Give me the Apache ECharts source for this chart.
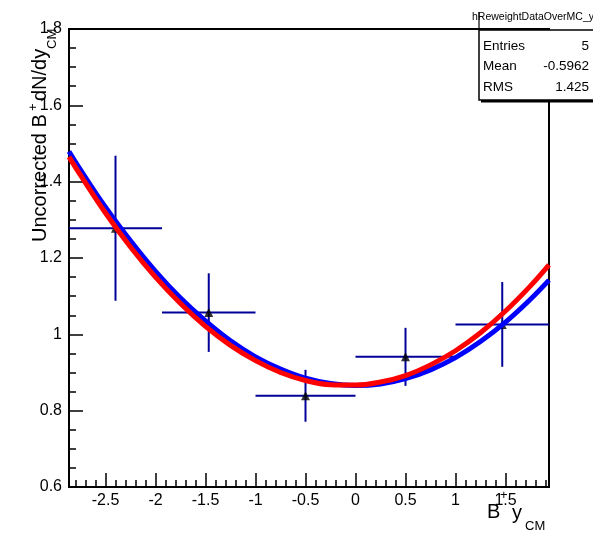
<!DOCTYPE html>
<html><head><meta charset="utf-8">
<script src="https://cdn.jsdelivr.net/npm/echarts@6/dist/echarts.min.js"></script>
<style>html,body{margin:0;padding:0;background:#fff}#c{width:593px;height:533px}</style>
</head><body><div id="c"></div>
<script>
// ---- data ----
const binCenters = [-2.4, -1.4675, -0.5, 0.5, 1.4675];
const binLow     = [-2.865, -1.935, -1.0, 0.0, 1.0];
const binHigh    = [-1.935, -1.0, 0.0, 1.0, 1.935];
const yields     = [1.278, 1.057, 0.839, 0.941, 1.026];
const yErrors    = [0.19, 0.103, 0.068, 0.076, 0.111];

const curveX  = [-2.865, -2.75, -2.5, -2.25, -2.0, -1.75, -1.5, -1.25, -1.0, -0.75, -0.5, -0.25,
                 0.0, 0.25, 0.5, 0.75, 1.0, 1.25, 1.5, 1.75, 1.935];
const blueFit = [1.479, 1.431, 1.333, 1.245, 1.165, 1.095, 1.035, 0.983, 0.941, 0.909, 0.885, 0.871,
                 0.866, 0.870, 0.884, 0.907, 0.939, 0.981, 1.032, 1.092, 1.142];
const redFit  = [1.465, 1.417, 1.318, 1.229, 1.150, 1.081, 1.021, 0.971, 0.931, 0.900, 0.879, 0.868,
                 0.867, 0.875, 0.892, 0.920, 0.957, 1.004, 1.061, 1.127, 1.182];

const xTickLabels = [-2.5, -2, -1.5, -1, -0.5, 0, 0.5, 1, 1.5];
const yTickLabels = [0.6, 0.8, 1, 1.2, 1.4, 1.6, 1.8];
const statsLabels = ['Entries', 'Mean', 'RMS'];
const statsValues = ['5', '-0.5962', '1.425'];
const histName = 'hReweightDataOverMC_y';

const xMin = -2.865, xMax = 1.935, yMin = 0.6, yMax = 1.8;

// minor tick positions (every 0.1)
const xMinorTicks = [];
for (let k = -28; k <= 19; k++) xMinorTicks.push(k / 10);

const FONT = '"Liberation Sans", Arial, Helvetica, sans-serif';
const chart = echarts.init(document.getElementById('c'), null, {renderer: 'canvas'});

const errData = binCenters.map((x, i) => [x, yields[i], binLow[i], binHigh[i], yErrors[i]]);
const ptData = binCenters.map((x, i) => [x, yields[i]]);
const blueData = curveX.map((x, i) => [x, blueFit[i]]);
const redData = curveX.map((x, i) => [x, redFit[i]]);

const rot = Math.PI / 2;
function txt(text, x, y, size, opts) {
  return Object.assign({
    type: 'text', x: x, y: y, z: 100,
    style: Object.assign({text: text, fill: '#000', font: size + 'px ' + FONT,
      textAlign: 'left', textVerticalAlign: 'middle'}, (opts && opts.style) || {})
  }, (opts && opts.el) || {});
}

const graphics = [
  {type: 'rect', z: 90, shape: {x: 479, y: 30, width: 130, height: 70},
   style: {fill: '#fff', stroke: '#000', lineWidth: 1.5}},
  {type: 'rect', z: 91, shape: {x: 481, y: 100, width: 130, height: 2.5},
   style: {fill: '#000'}},
  {type: 'line', z: 91, shape: {x1: 479, y1: 12, x2: 479, y2: 30},
   style: {stroke: '#000', lineWidth: 1.2}},
  txt(histName, 472, 17.5, 10.5),
];
statsLabels.forEach((s, i) => {
  const yy = [46, 66, 87][i];
  graphics.push(txt(s, 483, yy, 13.5));
  graphics.push(txt(statsValues[i], 589, yy, 13.5, {style: {textAlign: 'right'}}));
});
// x-axis title: B^+ y_CM
graphics.push(txt('B', 487, 512, 20));
graphics.push(txt('+', 500, 495, 13));
graphics.push(txt('y', 512, 513, 20));
graphics.push(txt('CM', 525, 526, 13));
// y-axis title (rotated): Uncorrected B^+ dN/dy_CM
graphics.push(txt('Uncorrected B', 40, 242, 20, {el: {rotation: rot}}));
graphics.push(txt('+', 33, 111, 13, {el: {rotation: rot}}));
graphics.push(txt('dN/dy', 40, 101, 20, {el: {rotation: rot}}));
graphics.push(txt('CM', 52, 49, 13, {el: {rotation: rot}}));

const option = {
  animation: false,
  backgroundColor: '#fff',
  textStyle: {fontFamily: FONT},
  grid: {left: 69, right: 44, top: 29, bottom: 46, show: true,
         borderColor: '#000', borderWidth: 2, backgroundColor: '#fff'},
  xAxis: [
    {type: 'value', min: xMin, max: xMax, position: 'bottom',
     axisLine: {show: false, onZero: false}, splitLine: {show: false},
     axisTick: {show: true, inside: true, length: 14, customValues: xTickLabels,
                lineStyle: {color: '#000', width: 1.5}},
     axisLabel: {show: true, customValues: xTickLabels, margin: 6,
                 fontSize: 16, color: '#000', fontFamily: FONT}},
    {type: 'value', min: xMin, max: xMax, position: 'bottom',
     axisLine: {show: false, onZero: false}, splitLine: {show: false},
     axisTick: {show: true, inside: true, length: 7, customValues: xMinorTicks,
                lineStyle: {color: '#000', width: 1.5}},
     axisLabel: {show: false}}
  ],
  yAxis: {type: 'value', min: yMin, max: yMax, interval: 0.2, position: 'left',
    axisLine: {show: false, onZero: false}, splitLine: {show: false},
    axisTick: {show: true, inside: true, length: 14, lineStyle: {color: '#000', width: 1.5}},
    minorTick: {show: true, splitNumber: 4, length: 7, lineStyle: {color: '#000', width: 1.5}},
    axisLabel: {margin: 7, fontSize: 16, color: '#000', fontFamily: FONT}},
  series: [
    {type: 'custom', xAxisIndex: 0, data: errData, encode: {x: 0, y: 1}, z: 2,
     renderItem: function (params, api) {
       const x = api.value(0), y = api.value(1);
       const c = api.coord([x, y]);
       const l = api.coord([api.value(2), y]);
       const r = api.coord([api.value(3), y]);
       const t = api.coord([x, y + api.value(4)]);
       const b = api.coord([x, y - api.value(4)]);
       const st = {stroke: '#000099', lineWidth: 2};
       return {type: 'group', children: [
         {type: 'line', shape: {x1: l[0], y1: c[1], x2: r[0], y2: c[1]}, style: st},
         {type: 'line', shape: {x1: c[0], y1: t[1], x2: c[0], y2: b[1]}, style: st}
       ]};
     }},
    {type: 'scatter', xAxisIndex: 0, data: ptData, symbol: 'triangle', symbolSize: 9,
     itemStyle: {color: '#000'}, z: 3},
    {type: 'line', xAxisIndex: 0, data: blueData, smooth: 0.4, symbol: 'none', z: 4,
     lineStyle: {color: '#0000ff', width: 5}},
    {type: 'line', xAxisIndex: 0, data: redData, smooth: 0.4, symbol: 'none', z: 5,
     lineStyle: {color: '#ff0000', width: 5}}
  ],
  graphic: graphics
};
chart.setOption(option);
</script>
</body></html>
